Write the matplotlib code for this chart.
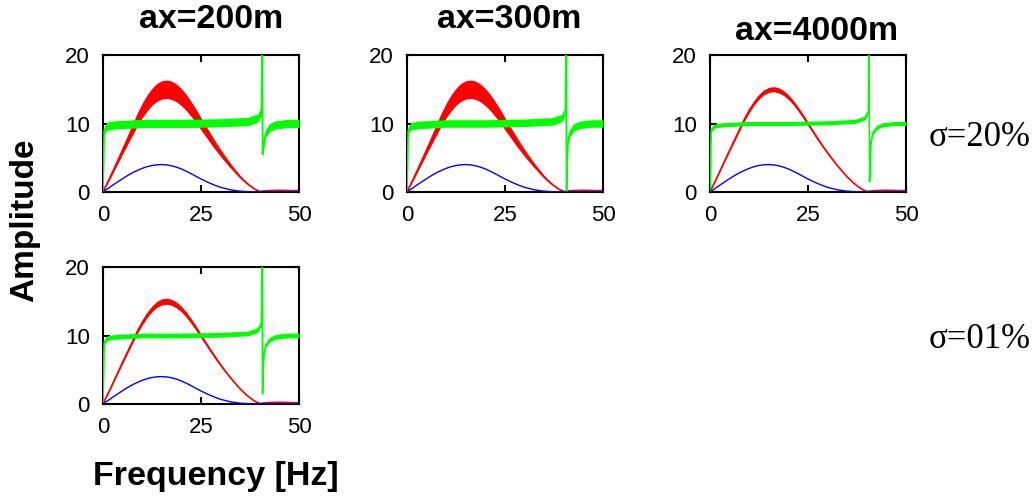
import numpy as np
import matplotlib
matplotlib.use("Agg")
import matplotlib.pyplot as plt

# ---- data ----
titles = ["ax=200m", "ax=300m", "ax=4000m"]
sigma_labels = ["σ=20%", "σ=01%"]
xticks = [0, 25, 50]
yticks = [0, 10, 20]

# blue curve (smooth)
blue_f = [0, 1.25, 2.5, 3.75, 5, 6.25, 7.5, 8.75, 10, 11.25, 12.5, 13.75, 15, 16.25, 17.5, 18.75,
          20, 21.25, 22.5, 23.75, 25, 26.25, 27.5, 28.75, 30, 32.5, 35, 37.5, 40, 50]
blue_a = [0, 0.5, 1.0, 1.48, 1.95, 2.4, 2.8, 3.15, 3.45, 3.7, 3.87, 3.97, 4.0, 3.95, 3.83, 3.63,
          3.36, 3.03, 2.67, 2.28, 1.9, 1.55, 1.23, 0.94, 0.68, 0.32, 0.12, 0.03, 0.0, 0.0]

# red curve (mean of the noisy trace)
red_f = [0, 2.5, 5, 7.5, 8.75, 10, 11.25, 12.5, 13.75, 15, 16.25, 17.5, 18.75, 20, 21.25, 22.5,
         23.75, 25, 26.25, 27.5, 28.75, 30, 31.25, 32.5, 33.75, 35, 36.25, 37.5, 38.75, 40, 42, 45, 48, 50]
red_a = [0, 3.0, 6.1, 9.1, 10.6, 11.9, 13.0, 13.9, 14.55, 14.9, 15.0, 14.85, 14.45, 13.85, 13.05, 12.1,
         11.05, 9.95, 8.85, 7.75, 6.7, 5.7, 4.75, 3.85, 3.0, 2.2, 1.5, 0.9, 0.4, 0.08, 0.2, 0.25, 0.2, 0.2]
# relative spread of the red noise band per panel
red_spread = [0.09, 0.09, 0.025, 0.03]

# green curve (mean of the noisy trace) with spike near 40.6 Hz
green_f = [0, 0.3, 1, 3, 10, 20, 30, 37, 39.5, 40.4, 40.55, 40.7, 41.0, 41.5, 42.5, 44, 47, 50]
green_a = [0, 9.0, 9.6, 9.8, 10.0, 10.0, 10.1, 10.3, 10.8, 11.8, 25, None, 7.0, 8.6, 9.4, 9.8, 10.0, 10.0]
green_min = [5.5, 0.0, 1.5, 1.5]          # depth of the dip after the spike, per panel
green_noise = [0.6, 0.55, 0.3, 0.35]      # half-width of the green noise band, per panel

panels = [(0, 0), (0, 1), (0, 2), (1, 0)]  # (row, col)

W, H = 1034, 500
fig = plt.figure(figsize=(W / 100, H / 100), dpi=100)
plt.rcParams['font.family'] = ['Liberation Sans', 'DejaVu Sans']

lefts = [103, 407, 710]
tops = [55, 267]
aw, ah = 196, 137

for i, (r, c) in enumerate(panels):
    ax = fig.add_axes([lefts[c] / W, 1 - (tops[r] + ah) / H, aw / W, ah / H])
    bf = np.array(blue_f); ba = np.array(blue_a)
    rf = np.array(red_f); ra = np.array(red_a)
    ga = np.array([green_min[i] if v is None else v for v in green_a], dtype=float)
    gf = np.array(green_f)

    rs = ra * red_spread[i]
    ax.fill_between(rf, ra - rs, ra + rs, color='red', lw=0, zorder=2)
    ax.plot(rf, ra, color='red', lw=1.2, zorder=2)

    gn = np.full_like(ga, green_noise[i])
    gn[0] = 0
    ax.fill_between(gf, ga - gn, ga + gn, color='#00ff00', lw=0, zorder=3)
    ax.plot(gf, ga, color='#00ff00', lw=1.2, zorder=3)

    ax.plot(bf, ba, color='blue', lw=1.0, zorder=4)

    ax.set_xlim(0, 50)
    ax.set_ylim(0, 20)
    ax.set_xticks(xticks)
    ax.set_yticks(yticks)
    ax.tick_params(direction='in', top=True, right=True, length=5, width=1.5,
                   labelsize=16)
    ax.tick_params(axis='x', pad=9.5)
    ax.tick_params(axis='y', pad=9.5)
    for s in ax.spines.values():
        s.set_linewidth(1.5)

# titles
title_pos = [(211, 19), (509, 19), (817, 31)]
for t, (x, y) in zip(titles, title_pos):
    fig.text(x / W, 1 - y / H, t, ha='center', va='center', fontsize=24.5, fontweight='bold')

# sigma labels
sig_pos = [(980, 137), (980, 340)]
for t, (x, y) in zip(sigma_labels, sig_pos):
    fig.text(x / W, 1 - y / H, t, ha='center', va='center', fontsize=25,
             family=['Liberation Serif', 'DejaVu Serif'])

fig.text(25 / W, 1 - 220 / H, 'Amplitude', rotation=90, ha='center', va='center',
         fontsize=24, fontweight='bold')
fig.text(216 / W, 1 - 476 / H, 'Frequency [Hz]', ha='center', va='center',
         fontsize=24.5, fontweight='bold')

fig.savefig('out.png', dpi=100)
